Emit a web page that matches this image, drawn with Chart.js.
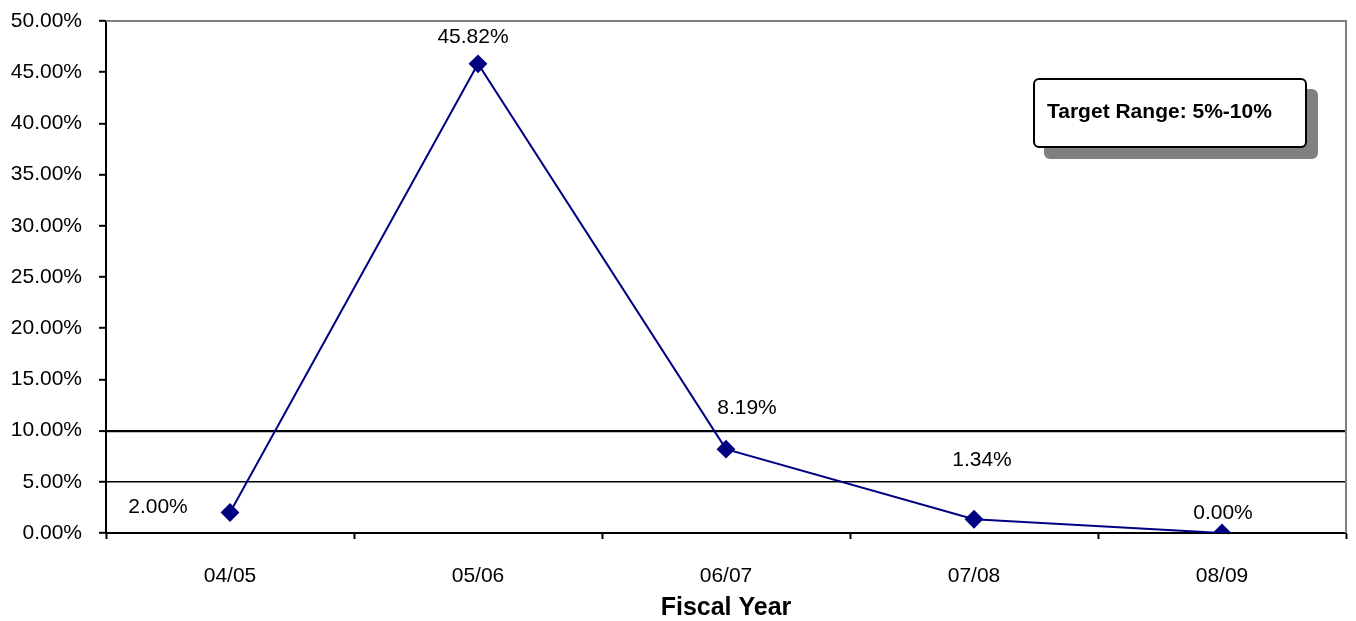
<!DOCTYPE html>
<html>
<head>
    <title>Fiscal Year Chart</title>
    <script src="https://cdn.jsdelivr.net/npm/chart.js"></script>
    <style>
        body {
            margin: 0;
            background: white;
            font-family: "Liberation Sans", Arial, sans-serif;
        }
        .wrap {
            position: relative;
            width: 1356px;
            height: 621px;
        }
        .note {
            position: absolute;
            left: 1033px;
            top: 78px;
            width: 274px;
            height: 70px;
            border: 2px solid #000;
            border-radius: 6px;
            background: white;
            box-shadow: 11px 11px 0 #808080;
            font-weight: bold;
            font-size: 21px;
            line-height: 62px;
            padding-left: 12px;
            box-sizing: border-box;
        }
    </style>
</head>
<body>
<div class="wrap">
    <canvas id="chart" width="1356" height="621"></canvas>
    <div class="note">Target Range: 5%-10%</div>
</div>
<script>
    // chart data
    const years = ['04/05', '05/06', '06/07', '07/08', '08/09'];
    const rates = [2.00, 45.82, 8.19, 1.34, 0.00];
    const rateLabels = ['2.00%', '45.82%', '8.19%', '1.34%', '0.00%'];

    // label offsets from each point (px)
    const labelOffsets = [[-72, -5], [-5, -27], [21, -41], [8, -59], [1, -20]];

    const font = '"Liberation Sans", Arial, sans-serif';

    // gray top/right frame plus point labels
    const extras = {
        id: 'extras',
        beforeDatasetsDraw(chart) {
            const { ctx, chartArea: a } = chart;
            ctx.save();
            ctx.strokeStyle = '#808080';
            ctx.lineWidth = 2;
            ctx.beginPath();
            ctx.moveTo(a.left, a.top);
            ctx.lineTo(a.right, a.top);
            ctx.lineTo(a.right, a.bottom);
            ctx.stroke();
            ctx.restore();
        },
        afterDatasetsDraw(chart) {
            const { ctx } = chart;
            const meta = chart.getDatasetMeta(0);
            ctx.save();
            ctx.font = '21px ' + font;
            ctx.fillStyle = '#000';
            ctx.textAlign = 'center';
            ctx.textBaseline = 'middle';
            meta.data.forEach((pt, i) => {
                ctx.fillText(rateLabels[i], pt.x + labelOffsets[i][0], pt.y + labelOffsets[i][1]);
            });
            ctx.restore();
        }
    };

    new Chart(document.getElementById('chart'), {
        type: 'line',
        data: {
            labels: years,
            datasets: [{
                data: rates,
                borderColor: '#000080',
                backgroundColor: '#000080',
                borderWidth: 2,
                pointStyle: 'rectRot',
                pointRadius: 8,
                pointBackgroundColor: '#000080',
                pointBorderColor: '#000080',
                tension: 0
            }]
        },
        options: {
            responsive: false,
            animation: false,
            layout: { padding: { left: 0, right: 4, top: 0, bottom: 0 } },
            plugins: {
                legend: { display: false },
                tooltip: { enabled: false }
            },
            scales: {
                x: {
                    offset: true,
                    afterFit(scale) { scale.height = 88; },
                    grid: {
                        offset: true,
                        drawOnChartArea: false,
                        drawTicks: true,
                        tickLength: 6,
                        tickColor: '#000',
                        tickWidth: 2
                    },
                    border: { color: '#000', width: 2 },
                    ticks: {
                        color: '#000',
                        font: { family: font, size: 21 },
                        padding: 25
                    },
                    title: {
                        display: true,
                        text: 'Fiscal Year',
                        color: '#000',
                        font: { family: font, size: 25, weight: 'bold' },
                        padding: { top: 0, bottom: -2 }
                    }
                },
                y: {
                    min: 0,
                    max: 50,
                    afterFit(scale) {
                        scale.width = 106;
                        scale.paddingTop = 21;
                    },
                    grid: {
                        color(ctx) {
                            if (ctx.tick && ctx.tick.value === 10) return '#000';
                            if (ctx.tick && ctx.tick.value === 5) return '#000';
                            return 'rgba(0,0,0,0)';
                        },
                        lineWidth(ctx) {
                            return ctx.tick && ctx.tick.value === 10 ? 2.2 : 1.6;
                        },
                        tickColor: '#000',
                        tickWidth: 2,
                        tickLength: 7
                    },
                    border: { color: '#000', width: 2 },
                    ticks: {
                        stepSize: 5,
                        color: '#000',
                        padding: 17,
                        font: { family: font, size: 21 },
                        callback: v => v.toFixed(2) + '%'
                    }
                }
            }
        },
        plugins: [extras]
    });
</script>
</body>
</html>
